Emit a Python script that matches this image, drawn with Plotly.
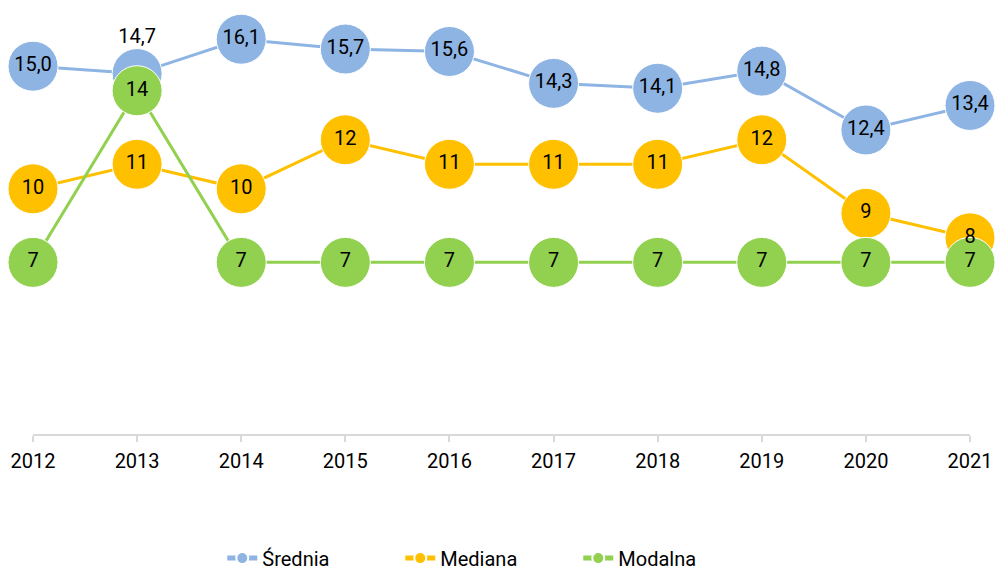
import plotly.graph_objects as go

years = [2012, 2013, 2014, 2015, 2016, 2017, 2018, 2019, 2020, 2021]
srednia = [15.0, 14.7, 16.1, 15.7, 15.6, 14.3, 14.1, 14.8, 12.4, 13.4]
mediana = [10, 11, 10, 12, 11, 11, 11, 12, 9, 8]
modalna = [7, 14, 7, 7, 7, 7, 7, 7, 7, 7]

names = ["Średnia", "Mediana", "Modalna"]
colors = ["#8EB4E3", "#FFC000", "#92D050"]
series = [srednia, mediana, modalna]

FONT = "Roboto"
FS = 20


def fmt(v, dec):
    return f"{v:.{dec}f}".replace(".", ",")


fig = go.Figure()
for name, col, vals in zip(names, colors, series):
    fig.add_trace(go.Scatter(
        x=years, y=vals, name=name, mode="lines+markers",
        line=dict(color=col, width=3),
        marker=dict(color=col, size=50, line=dict(color="white", width=1)),
        cliponaxis=False, hoverinfo="skip",
    ))

decs = [1, 0, 0]
for i, (name, vals) in enumerate(zip(names, series)):
    pos = ["middle center"] * len(vals)
    if i == 0:
        pos[1] = "top center"
    fig.add_trace(go.Scatter(
        x=years, y=vals, mode="markers+text", showlegend=False,
        text=[fmt(v, decs[i]) for v in vals], textposition=pos,
        textfont=dict(family=FONT, size=FS, color="black"),
        marker=dict(size=40, color="rgba(0,0,0,0)"),
        cliponaxis=False, hoverinfo="skip",
    ))

fig.update_layout(
    width=995, height=570,
    margin=dict(l=33, r=25, t=0, b=136, autoexpand=False),
    plot_bgcolor="white", paper_bgcolor="white",
    font=dict(family=FONT, size=FS, color="black"),
    showlegend=True,
    legend=dict(orientation="h", x=0.202, xanchor="left", y=-0.241, yanchor="top",
                font=dict(family=FONT, size=FS), itemsizing="constant",
                entrywidth=133, entrywidthmode="pixels"),
    xaxis=dict(range=[2012, 2021], tickvals=years, ticktext=[str(y) for y in years],
               showgrid=False, zeroline=False, showline=True, linecolor="#D9D9D9",
               linewidth=2, ticks="outside", ticklen=6, tickcolor="#D9D9D9", tickwidth=2,
               ticklabelstandoff=2,
               tickfont=dict(family=FONT, size=FS)),
    yaxis=dict(range=[0, 17.7], visible=False, showgrid=False, zeroline=False),
)

fig.write_html("out.html", config={"displayModeBar": False},
               post_script="document.body.style.margin='0px';")
